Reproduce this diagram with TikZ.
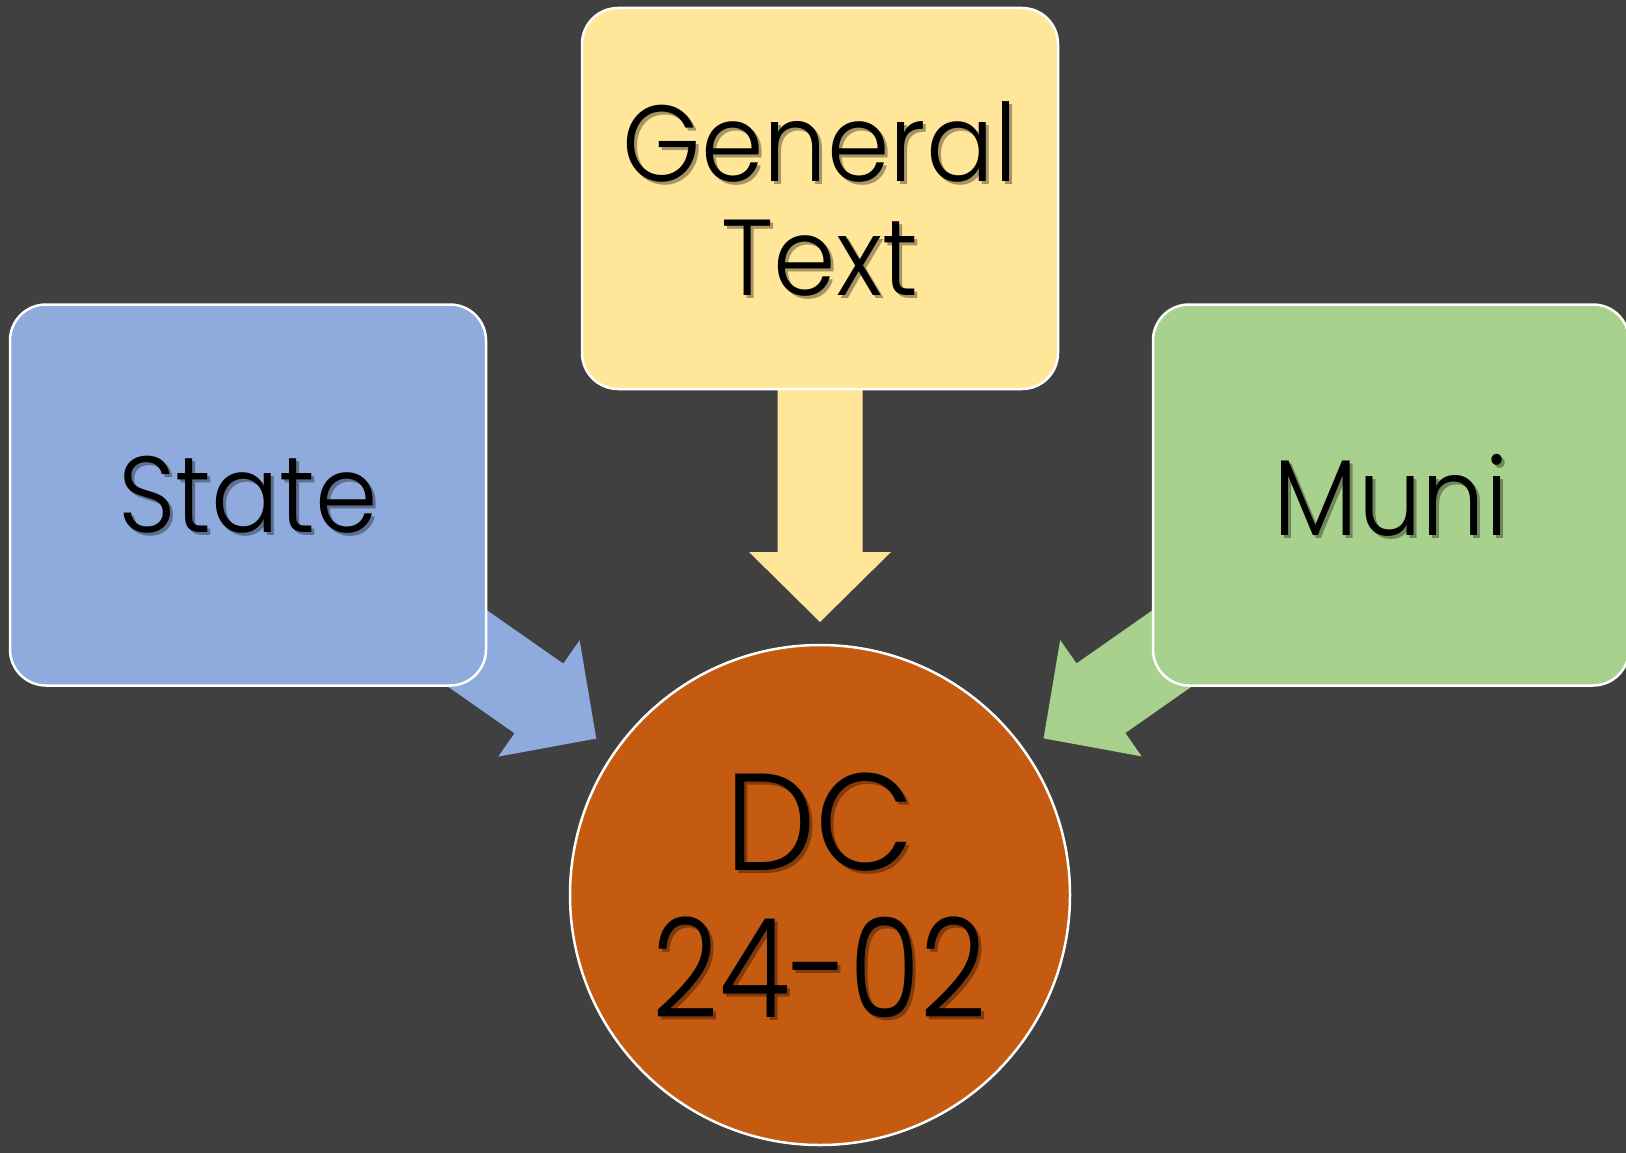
\documentclass[tikz,border=0pt]{standalone}
\usepackage{fontspec}
\setmainfont{Poppins}[UprightFont=* Light, FakeStretch=0.93]
\usetikzlibrary{calc}
\pgfdeclarelayer{back}
\pgfsetlayers{back,main}
\definecolor{bgc}{HTML}{404040}
\definecolor{ylw}{HTML}{FFE699}
\definecolor{blu}{HTML}{8FAADC}
\definecolor{grn}{HTML}{A9D18E}
\definecolor{org}{HTML}{C55A11}
\newcommand\hubarrow[3]{%
  \path ($(#2.center)!273pt!(#1.center)$) coordinate (#1-tip)
        ($(#2.center)!343pt!(#1.center)$) coordinate (#1-base);
  \fill[#3] ($(#1.center)!42.5pt!90:(#2.center)$)
    -- ($(#1-base)!42.5pt!90:(#2.center)$)
    -- ($(#1-base)!71pt!90:(#2.center)$)
    -- (#1-tip)
    -- ($(#1-base)!71pt!-90:(#2.center)$)
    -- ($(#1-base)!42.5pt!-90:(#2.center)$)
    -- ($(#1.center)!42.5pt!-90:(#2.center)$) -- cycle;}
\newcommand\numline{\scalebox{0.9}[1]{24-02}}
\begin{document}
\begin{tikzpicture}[x=1pt,y=-1pt,
  box/.style={draw=white, line width=2.5pt, rounded corners=36pt,
    minimum width=476pt, minimum height=381pt, inner sep=0pt,
    align=center, text=black, font=\fontsize{108}{114}\selectfont},
  hub/.style={circle, draw=white, line width=2.5pt, minimum size=500pt,
    inner sep=0pt, align=center, text=black, font=\fontsize{138}{147}\selectfont},
  shade/.style={inner sep=0pt, align=center, text=black, text opacity=0.35},
]
\useasboundingbox (0,0) rectangle (1626,1153);
\begin{pgfonlayer}{back}
\fill[bgc] (0,0) rectangle (1626,1153);
\end{pgfonlayer}

\node[box, fill=ylw] (gen) at (820,198.5) {General\\Text};
\node[box, fill=blu] (state) at (248,495) {State};
\node[box, fill=grn] (muni) at (1391,495) {Muni};
\node[hub, fill=org] (dc) at (820,895) {DC\\\numline};

\node[shade, font=\fontsize{108}{114}\selectfont] (genS) at ($(gen.center)+(3,3)$) {General\\Text};
\node[shade, font=\fontsize{108}{114}\selectfont] (stateS) at ($(state.center)+(3,3)$) {State};
\node[shade, font=\fontsize{108}{114}\selectfont] (muniS) at ($(muni.center)+(3,3)$) {Muni};
\node[shade, font=\fontsize{138}{147}\selectfont] (dcS) at ($(dc.center)+(3,3)$) {DC\\\numline};

\begin{pgfonlayer}{back}
\hubarrow{gen}{dc}{ylw}
\hubarrow{state}{dc}{blu}
\hubarrow{muni}{dc}{grn}
\end{pgfonlayer}
\end{tikzpicture}
\end{document}
